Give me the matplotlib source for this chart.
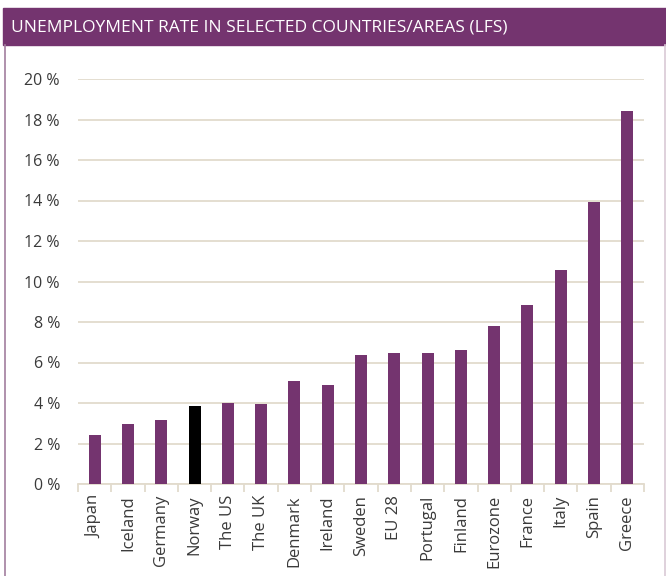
import matplotlib
matplotlib.use("Agg")
import matplotlib.pyplot as plt
from matplotlib.patches import Rectangle
from matplotlib.lines import Line2D
import numpy as np

PURPLE = "#74346f"
GRID = "#e2dbcd"
TEXT = "#3a3a3a"

countries = ["Japan", "Iceland", "Germany", "Norway", "The US", "The UK", "Denmark",
             "Ireland", "Sweden", "EU 28", "Portugal", "Finland", "Eurozone", "France",
             "Italy", "Spain", "Greece"]
rates = [2.4, 2.95, 3.15, 3.85, 4.0, 3.95, 5.1, 4.9, 6.35, 6.45, 6.45, 6.6,
         7.8, 8.85, 10.55, 13.95, 18.4]
highlight = "Norway"
yticks = [0, 2, 4, 6, 8, 10, 12, 14, 16, 18, 20]

plt.rcParams["font.family"] = ["Open Sans", "DejaVu Sans"]

fig = plt.figure(figsize=(6.66, 5.76), dpi=100)
fig.set_facecolor("white")

# title band and frame
fig.patches.append(Rectangle((3 / 666, 1 - 45 / 576), 663 / 666, 37 / 576,
                             transform=fig.transFigure, color=PURPLE, zorder=0))
fig.text(11 / 666, 1 - 27 / 576, "UNEMPLOYMENT RATE IN SELECTED COUNTRIES/AREAS (LFS)",
         color="white", fontsize=12.5, va="center", ha="left")
fig.lines.append(Line2D([4.5 / 666, 4.5 / 666], [0, 1 - 45 / 576], transform=fig.transFigure,
                        color="#a27e9e", linewidth=1.2))
fig.lines.append(Line2D([664.5 / 666, 664.5 / 666], [0, 1 - 45 / 576], transform=fig.transFigure,
                        color="#d9c9d6", linewidth=1.2))

ax = fig.add_axes([78 / 666, 1 - 484 / 576, 566 / 666, 405 / 576])
x = np.arange(len(countries))
colors = ["black" if c == highlight else PURPLE for c in countries]
ax.bar(x, rates, width=0.36, color=colors, zorder=3)

ax.set_xlim(-0.5, len(countries) - 0.5)
ax.set_ylim(0, 20)
ax.set_yticks(yticks)
ax.set_yticklabels([f"{v} %" for v in yticks], fontsize=11.5, color=TEXT)
ax.tick_params(axis="y", length=0, pad=13)
ax.grid(axis="y", color=GRID, linewidth=1.3, zorder=0)
ax.set_axisbelow(True)

ax.set_xticks(x)
ax.set_xticklabels(countries, rotation=90, fontsize=12, color=TEXT)
ax.tick_params(axis="x", length=0, pad=8)
ax.set_xticks(np.arange(-0.5, len(countries)), minor=True)
ax.tick_params(axis="x", which="minor", length=6, color=GRID, width=1.3)

for side in ["top", "right", "left"]:
    ax.spines[side].set_visible(False)
ax.spines["bottom"].set_color(GRID)
ax.spines["bottom"].set_linewidth(1.3)

fig.savefig("out.png", dpi=100)
